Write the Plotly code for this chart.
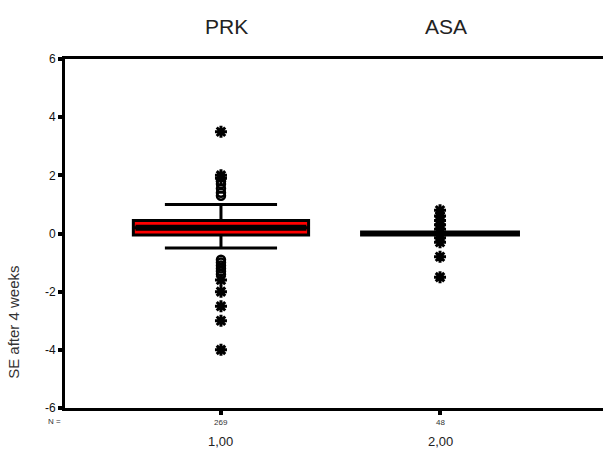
import plotly.graph_objects as go

# ---- data ----
groups = ["PRK", "ASA"]
x_pos = [1, 2]
n_counts = ["269", "48"]
x_tick_labels = ["1,00", "2,00"]
q1 = [-0.05, 0.0]
median = [0.2, 0.0]
q3 = [0.45, 0.0]
lower_fence = [-0.5, 0.0]
upper_fence = [1.0, 0.0]
prk_circles = [1.8, 1.7, 1.55, 1.4, 1.3, -0.9, -1.0, -1.1, -1.2, -1.3, -1.4]
prk_stars = [3.5, 2.0, 1.9, -1.6, -2.0, -2.5, -3.0, -4.0]
asa_stars = [0.8, 0.6, 0.45, 0.3, 0.15, -0.15, -0.3, -0.8, -1.5]
y_ticks = [-6, -4, -2, 0, 2, 4, 6]
y_tick_labels = ["-6", "-4", "-2", "0", "2", "4", "6"]

box_widths = [0.8, 0.73]
FONT = "Liberation Sans, Arial"

fig = go.Figure()

# PRK box
fig.add_trace(go.Box(
    x=[x_pos[0]], q1=[q1[0]], median=[median[0]], q3=[q3[0]],
    lowerfence=[lower_fence[0]], upperfence=[upper_fence[0]],
    width=box_widths[0], whiskerwidth=0.64, fillcolor="#ff0000",
    line=dict(color="black", width=3), boxpoints=False, showlegend=False,
    hoverinfo="skip"))
# thick median
fig.add_trace(go.Scatter(
    x=[x_pos[0] - box_widths[0] / 2 + 0.01, x_pos[0] + box_widths[0] / 2 - 0.01],
    y=[median[0], median[0]], mode="lines",
    line=dict(color="black", width=6), showlegend=False, hoverinfo="skip"))

# ASA box (collapsed)
fig.add_trace(go.Box(
    x=[x_pos[1]], q1=[q1[1]], median=[median[1]], q3=[q3[1]],
    lowerfence=[lower_fence[1]], upperfence=[upper_fence[1]],
    width=box_widths[1], whiskerwidth=0.64, fillcolor="black",
    line=dict(color="black", width=6), boxpoints=False, showlegend=False,
    hoverinfo="skip"))

# outliers
fig.add_trace(go.Scatter(
    x=[x_pos[0]] * len(prk_circles), y=prk_circles, mode="markers",
    marker=dict(symbol="circle-open", size=8, color="black", line=dict(width=2.5)),
    showlegend=False, hoverinfo="skip"))
fig.add_trace(go.Scatter(
    x=[x_pos[0]] * len(prk_stars), y=prk_stars, mode="markers",
    marker=dict(symbol="asterisk-open", size=10, color="black", line=dict(width=3, color="black")),
    showlegend=False, hoverinfo="skip"))
fig.add_trace(go.Scatter(
    x=[x_pos[1]] * len(asa_stars), y=asa_stars, mode="markers",
    marker=dict(symbol="asterisk-open", size=10, color="black", line=dict(width=3, color="black")),
    showlegend=False, hoverinfo="skip"))

annotations = []
for xp, g, n, lab in zip(x_pos, groups, n_counts, x_tick_labels):
    annotations.append(dict(x=xp, y=1.0, xref="x", yref="paper", yshift=33, xshift=6,
                            xanchor="center", yanchor="middle",
                            text=g, showarrow=False,
                            font=dict(family=FONT, size=21, color="#222")))
    annotations.append(dict(x=xp, y=0, xref="x", yref="paper", yshift=-14,
                            xanchor="center", yanchor="middle",
                            text=n, showarrow=False,
                            font=dict(family=FONT, size=8, color="#333")))
    annotations.append(dict(x=xp, y=0, xref="x", yref="paper", yshift=-33,
                            xanchor="center", yanchor="middle",
                            text=lab, showarrow=False,
                            font=dict(family=FONT, size=13, color="#222")))
annotations.append(dict(x=0, y=0, xref="paper", yref="paper", yshift=-13, xshift=-2,
                        xanchor="right", yanchor="middle",
                        text="N =", showarrow=False,
                        font=dict(family=FONT, size=8, color="#333")))
annotations.append(dict(x=0, y=0.244, xref="paper", yref="paper", xshift=-51,
                        xanchor="center", yanchor="middle",
                        text="SE after 4 weeks", textangle=-90, showarrow=False,
                        font=dict(family=FONT, size=15, color="#333")))

fig.update_layout(
    width=603, height=454,
    margin=dict(l=65, r=0, t=59, b=46),
    plot_bgcolor="white", paper_bgcolor="white",
    annotations=annotations,
    xaxis=dict(range=[0.288, 2.744], showgrid=False, zeroline=False,
               tickvals=x_pos, ticktext=["", ""], ticks="outside", ticklen=4,
               tickwidth=4, tickcolor="black",
               showline=True, linecolor="black", linewidth=3, mirror=True),
    yaxis=dict(range=[-6, 6], showgrid=False, zeroline=False,
               tickvals=y_ticks, ticktext=y_tick_labels,
               ticks="outside", ticklen=4, tickwidth=4,
               tickcolor="black",
               tickfont=dict(family=FONT, size=12, color="#111"),
               showline=True, linecolor="black", linewidth=3),
)

fig.write_html("out.html", config={"displayModeBar": False},
               post_script="document.body.style.margin='0';document.body.style.overflow='hidden';")
